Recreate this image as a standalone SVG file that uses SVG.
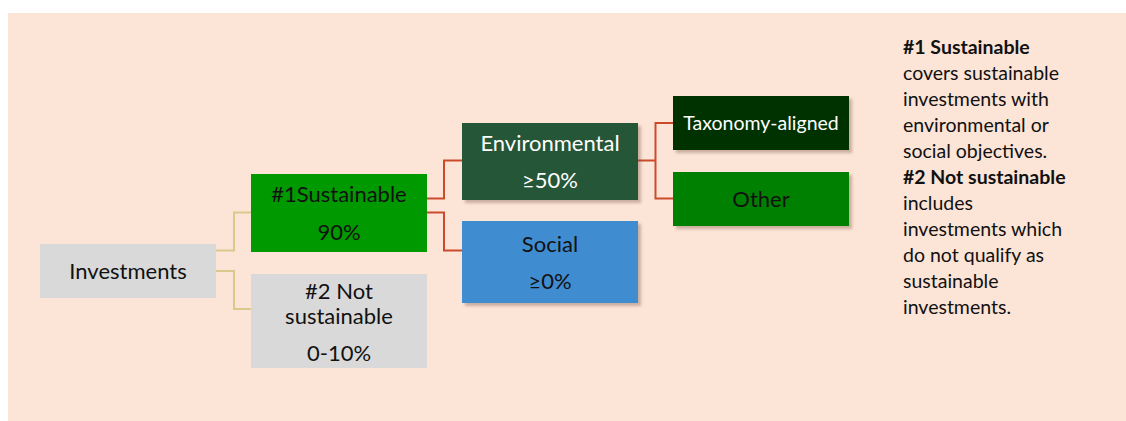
<svg xmlns="http://www.w3.org/2000/svg" width="1126" height="421" viewBox="0 0 1126 421">
<defs>
<filter id="sh" x="-10%" y="-10%" width="130%" height="140%">
<feDropShadow dx="3" dy="3" stdDeviation="1.5" flood-color="#6b4a3a" flood-opacity="0.35"/>
</filter>
</defs>
<style>
text{font-family:Lato,"Open Sans","Liberation Sans",sans-serif;}
.n{font-size:22px;text-anchor:middle;dominant-baseline:central;fill:#111;}
.w{fill:#ffffff;}
.s{font-size:19.5px;}
.side{font-size:19.5px;fill:#111;}
.b{font-weight:bold;}
.c1{fill:none;stroke:#d8c98c;stroke-width:2;}
.c2{fill:none;stroke:#cc4a2c;stroke-width:2;}
</style>
<rect x="8" y="13" width="1118" height="408" fill="#fce4d6"/>
<g id="connectors">
<path class="c1" d="M216 250.5H234V212.5H251"/>
<path class="c1" d="M216 271H234V309H251"/>
<path class="c2" d="M427 198.5H444V160.5H462"/>
<path class="c2" d="M427 212.5H444V250.5H462"/>
<path class="c2" d="M638 160.5H655.5"/>
<path class="c2" d="M673 123H655.5V198.5H673"/>
</g>
<g id="investments">
<rect x="40" y="244" width="176" height="54" fill="#d9d9d9"/>
<text class="n" x="128" y="270">Investments</text>
</g>
<g id="sustainable">
<rect x="251" y="174" width="176" height="78" fill="#009900"/>
<text class="n" x="339" y="193">#1Sustainable</text>
<text class="n" x="339" y="231">90%</text>
</g>
<g id="not-sustainable">
<rect x="251" y="274" width="176" height="94" fill="#d9d9d9"/>
<text class="n" x="339" y="290">#2 Not</text>
<text class="n" x="339" y="315">sustainable</text>
<text class="n" x="339" y="352">0-10%</text>
</g>
<g id="environmental">
<rect x="462" y="123" width="176" height="77" fill="#255639" filter="url(#sh)"/>
<text class="n w" x="550" y="142">Environmental</text>
<text class="n w" x="550" y="179">≥50%</text>
</g>
<g id="social">
<rect x="462" y="221" width="176" height="82" fill="#3f8cd0" filter="url(#sh)"/>
<text class="n" x="550" y="243">Social</text>
<text class="n" x="550" y="280">≥0%</text>
</g>
<g id="taxonomy">
<rect x="673" y="96" width="176" height="54" fill="#003300" filter="url(#sh)"/>
<text class="n w s" x="761" y="122.5">Taxonomy-aligned</text>
</g>
<g id="other">
<rect x="673" y="172" width="176" height="54" fill="#008000" filter="url(#sh)"/>
<text class="n" x="761" y="198.5">Other</text>
</g>
<g id="legend">
<text class="side" x="903">
<tspan x="903" y="54" class="b">#1 Sustainable</tspan>
<tspan x="903" y="80">covers sustainable</tspan>
<tspan x="903" y="106">investments with</tspan>
<tspan x="903" y="132">environmental or</tspan>
<tspan x="903" y="158">social objectives.</tspan>
<tspan x="903" y="184" class="b">#2 Not sustainable</tspan>
<tspan x="903" y="210">includes</tspan>
<tspan x="903" y="236">investments which</tspan>
<tspan x="903" y="262">do not qualify as</tspan>
<tspan x="903" y="288">sustainable</tspan>
<tspan x="903" y="314">investments.</tspan>
</text>
</g>
</svg>
